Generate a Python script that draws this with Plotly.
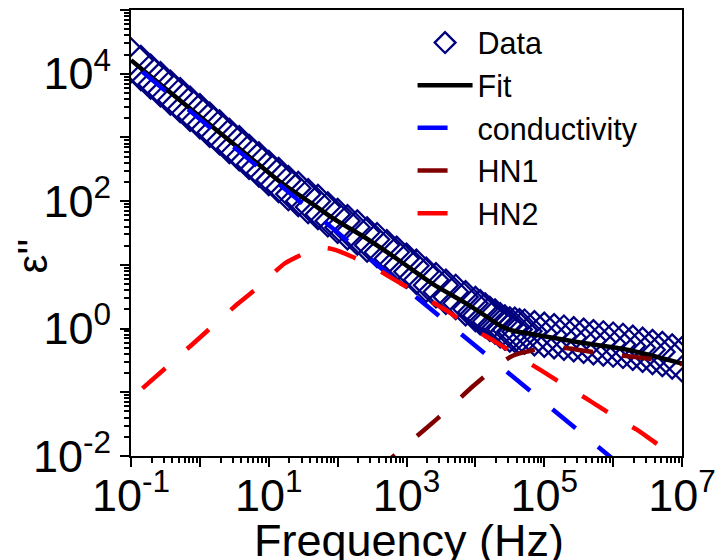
import plotly.graph_objects as go

# ---------------- data ----------------
data_freq = [0.1, 0.139, 0.193, 0.268, 0.373, 0.518, 0.72,
             1, 1.39, 1.93, 2.68, 3.73, 5.18, 7.2,
             10, 13.9, 19.3, 26.8, 37.3, 51.8, 72,
             100, 139, 193, 268, 373, 518, 720,
             1000, 1390, 1930, 2680, 3730, 5180, 7200,
             10000, 13900, 19300, 26800, 37300, 51800, 72000,
             100000, 139000, 193000, 268000, 373000, 518000, 720000,
             1e6, 1.39e6, 1.93e6, 2.68e6, 3.73e6, 5.18e6, 7.2e6, 1e7]
data_eps = [16200, 12300, 9000, 6850, 5050, 3850, 2820,
            2150, 1580, 1200, 880, 675, 495, 377,
            277, 214, 160, 129, 100, 81, 62,
            49, 39, 32.2, 25, 20.4, 15.8, 12.5,
            9.7, 7.8, 5.85, 4.8, 3.78, 3.14, 2.5,
            2.03, 1.61, 1.29, 1.04, 0.955, 0.895, 0.845,
            0.80, 0.76, 0.72, 0.68, 0.645, 0.61, 0.585,
            0.56, 0.535, 0.50, 0.465, 0.43, 0.40, 0.365, 0.33]
extra_freq = [11750, 16200, 22900, 31600, 43700]
extra_eps = [1.80, 1.42, 1.13, 0.97, 0.91]

fit_freq = [0.1, 0.316, 1, 3.16, 8.1, 15.8, 31.6, 43.6, 85, 263, 794, 2400,
            7400, 15850, 20400, 25100, 31600, 39800, 61700, 331000, 1.74e6, 1e7]
fit_eps = [16300, 5850, 2130, 775, 336, 188, 113, 90, 54, 25.9, 11.6, 5.03,
           2.46, 1.445, 1.20, 1.06, 0.955, 0.902, 0.832, 0.603, 0.457, 0.282]

cond_freq = [0.1466, 1e7]
cond_eps = [10700, 0.00115]

hn1_freq = [316, 1950, 3980, 9120, 19100, 31600, 43600, 91200, 141000,
            219000, 457000, 1.07e6, 2.24e6, 5.13e6, 1e7]
hn1_eps = [0.00513, 0.0275, 0.0537, 0.123, 0.240, 0.355, 0.407, 0.490, 0.513,
           0.490, 0.437, 0.389, 0.355, 0.316, 0.275]

hn2_freq = [0.1466, 0.759, 3.55, 7.41, 17.0, 35.5, 51.3, 81.3, 166, 407, 851,
            1950, 3980, 9120, 19100, 43600, 91200, 219000, 427000, 1.07e6,
            2.24e6, 5.13e6, 1e7]
hn2_eps = [0.115, 0.553, 2.45, 4.68, 10.5, 15.8, 18.6, 17.8, 13.3, 8.05, 5.01,
           2.95, 1.86, 1.0, 0.631, 0.355, 0.219, 0.120, 0.0776, 0.0407,
           0.0257, 0.0138, 0.01]

x_exps = list(range(-1, 8))
y_exps = list(range(-2, 6))
x_labeled = [-1, 1, 3, 5, 7]
y_labeled = [-2, 0, 2, 4]

FONT = "Liberation Sans, Arial, sans-serif"


def lab(e):
    return "10<sup>%d</sup>" % e


fig = go.Figure()

fig.add_trace(go.Scatter(
    x=data_freq + extra_freq, y=data_eps + extra_eps, mode="markers", name="Data",
    marker=dict(symbol="diamond-open", size=34, color="#000080",
                line=dict(width=2.3, color="#000080"))))
fig.add_trace(go.Scatter(
    x=fit_freq, y=fit_eps, mode="lines", name="Fit",
    line=dict(color="black", width=4.5, shape="spline", smoothing=0.8)))
fig.add_trace(go.Scatter(
    x=cond_freq, y=cond_eps, mode="lines", name="conductivity",
    line=dict(color="#0000FF", width=4.5, dash="30px,29px")))
fig.add_trace(go.Scatter(
    x=hn1_freq, y=hn1_eps, mode="lines", name="HN1",
    line=dict(color="#800000", width=4.5, dash="30px,29px", shape="spline", smoothing=0.6)))
fig.add_trace(go.Scatter(
    x=hn2_freq, y=hn2_eps, mode="lines", name="HN2",
    line=dict(color="#FF0000", width=4.5, dash="30px,29px", shape="spline", smoothing=0.6)))

common = dict(ticks="outside", ticklen=9, tickwidth=2, tickcolor="black",
              showline=True, linewidth=2, linecolor="black", mirror=True,
              showgrid=False, zeroline=False, automargin=False,
              tickfont=dict(family=FONT, size=45, color="black"))

fig.update_xaxes(
    type="log", range=[-1, 7],
    tickmode="array", tickvals=[10 ** e for e in x_exps],
    ticktext=[lab(e) if e in x_labeled else "" for e in x_exps],
    ticklabelstandoff=-10,
    minor=dict(tickmode="array",
               tickvals=[m * 10 ** e for e in x_exps[:-1] for m in range(2, 10)],
               ticks="outside", ticklen=5, tickwidth=1.5, tickcolor="black", showgrid=False),
    **common)
fig.update_yaxes(
    type="log", range=[-2, 5],
    tickmode="array", tickvals=[10 ** e for e in y_exps],
    ticktext=[lab(e) if e in y_labeled else "" for e in y_exps],
    minor=dict(tickmode="array",
               tickvals=[m * 10 ** e for e in y_exps[:-1] for m in range(2, 10)],
               ticks="outside", ticklen=5, tickwidth=1.5, tickcolor="black", showgrid=False),
    **common)

fig.add_annotation(text="Frequency (Hz)", xref="paper", yref="paper",
                   x=0.505, y=-0.19, xanchor="center", yanchor="middle",
                   showarrow=False, font=dict(family=FONT, size=45, color="black"))
fig.add_annotation(text="ε''", xref="paper", yref="paper",
                   x=-0.179, y=0.448, xanchor="center", yanchor="middle",
                   textangle=-90, showarrow=False,
                   font=dict(family=FONT, size=42, color="black"))

fig.update_layout(
    width=717, height=560,
    margin=dict(l=131, r=35, t=10, b=104),
    paper_bgcolor="white", plot_bgcolor="white",
    font=dict(family=FONT, color="black"),
    legend=dict(x=0.511, y=0.986, xanchor="left", yanchor="top",
                itemwidth=55,
                bgcolor="rgba(0,0,0,0)", borderwidth=0,
                font=dict(family=FONT, size=30.5, color="black")),
)

fig.write_html("out.html")
